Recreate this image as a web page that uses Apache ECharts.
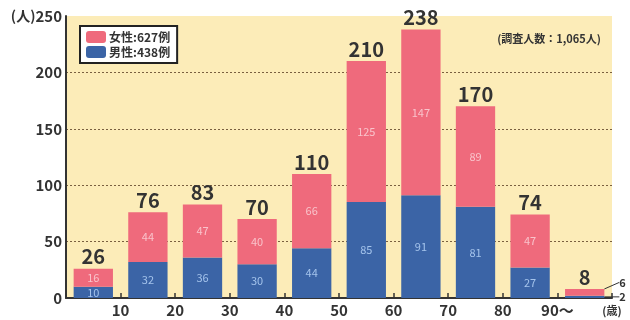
<!DOCTYPE html>
<html>
<head>
<meta charset="utf-8">
<script src="https://cdn.jsdelivr.net/npm/echarts@6/dist/echarts.min.js"></script>
<style>
  html, body { margin: 0; padding: 0; background: #ffffff; }
  #chart { width: 630px; height: 320px; }
</style>
</head>
<body>
<div id="chart"></div>
<script>
// Age groups (10-year bands) and counts by sex
const ageGroups = ['0-9', '10-19', '20-29', '30-39', '40-49', '50-59', '60-69', '70-79', '80-89', '90+'];
const male   = [10, 32, 36, 30, 44, 85, 91, 81, 27, 2];
const female = [16, 44, 47, 40, 66, 125, 147, 89, 47, 6];
const totals = [26, 76, 83, 70, 110, 210, 238, 170, 74, 8];
const maleName = '男性:438例';
const femaleName = '女性:627例';
const surveyNote = '(調査人数：1,065人)';
const yTicks = [0, 50, 100, 150, 200, 250];
const ageTickLabels = { 10: '10', 20: '20', 30: '30', 40: '40', 50: '50', 60: '60', 70: '70', 80: '80', 90: '90～', 100: '(歳)' };

const FONT = '"Noto Sans CJK JP", "Noto Sans", sans-serif';
const PINK = '#ef6a7c';
const BLUE = '#3b64a6';
const INK = '#333333';
const last = ageGroups.length - 1;

// Small bar segments get their value pulled out to the right with a leader line
function sideLabel(params, lift) {
  if (params.dataIndex !== last) return {};
  return {
    x: params.rect.x + params.rect.width + 15,
    y: params.rect.y + params.rect.height / 2 - lift,
    align: 'left',
    verticalAlign: 'middle'
  };
}

const chart = echarts.init(document.getElementById('chart'), null, { renderer: 'canvas' });
chart.setOption({
  animation: false,
  textStyle: { fontFamily: FONT },
  title: {
    text: surveyNote,
    right: 24,
    top: 28,
    textStyle: { fontFamily: FONT, fontSize: 11, fontWeight: 'bold', color: INK }
  },
  legend: {
    left: 80,
    top: 26,
    orient: 'vertical',
    data: [femaleName, maleName],
    backgroundColor: '#ffffff',
    borderColor: '#222222',
    borderWidth: 2,
    borderRadius: 0,
    padding: [5, 7, 5, 6],
    itemGap: 3,
    itemWidth: 20,
    itemHeight: 12,
    textStyle: { fontFamily: FONT, fontSize: 12, fontWeight: 'bold', color: INK, padding: [0, 0, 0, -2] }
  },
  grid: {
    left: 66, right: 18, top: 16, bottom: 22,
    show: true,
    backgroundColor: '#fcecb8',
    borderWidth: 0
  },
  xAxis: [
    {
      type: 'category',
      data: ageGroups,
      axisLine: { show: true, lineStyle: { color: INK, width: 2 } },
      axisTick: { show: true, inside: true, length: 5, lineStyle: { color: INK, width: 1.5 } },
      axisLabel: { show: false }
    },
    {
      type: 'value',
      min: 0, max: 100, interval: 10,
      position: 'bottom',
      axisLine: { show: false },
      axisTick: { show: false },
      splitLine: { show: false },
      axisLabel: {
        margin: 5,
        color: INK,
        fontFamily: FONT,
        fontSize: 15,
        fontWeight: 'bold',
        formatter: v => {
          const t = ageTickLabels[v] || '';
          return v === 100 ? '{s|' + t + '}' : t;
        },
        rich: { s: { fontSize: 11, fontWeight: 'bold', color: INK, fontFamily: FONT, padding: [2, 0, 0, 0] } }
      }
    }
  ],
  yAxis: {
    type: 'value',
    min: yTicks[0], max: yTicks[yTicks.length - 1], interval: 50,
    axisLine: { show: true, lineStyle: { color: INK, width: 2 } },
    axisTick: { show: false },
    axisLabel: {
      margin: 4,
      color: INK,
      fontFamily: FONT,
      fontSize: 15,
      fontWeight: 'bold',
      formatter: v => v === yTicks[yTicks.length - 1] ? '{u|(人)}' + v : String(v),
      rich: { u: { fontSize: 14, fontWeight: 'bold', color: INK, fontFamily: FONT } }
    },
    splitLine: {
      show: true,
      lineStyle: {
        type: [2, 2],
        width: 1,
        color: ['#7a6040', '#7a6040', '#7a6040', '#7a6040', '#7a6040', 'rgba(0,0,0,0)']
      }
    }
  },
  series: [
    {
      name: maleName,
      type: 'bar',
      stack: 'total',
      barWidth: '72%',
      itemStyle: { color: BLUE },
      data: male.map((v, i) => i === last
        ? { value: v, label: { position: 'right', color: INK, fontSize: 11, fontWeight: 'bold' } }
        : v),
      label: { show: true, position: 'inside', color: '#a5c4ec', fontSize: 11, fontFamily: FONT },
      labelLayout: p => sideLabel(p, 0),
      labelLine: { show: true, lineStyle: { color: INK, width: 1 } }
    },
    {
      name: femaleName,
      type: 'bar',
      stack: 'total',
      barWidth: '72%',
      itemStyle: { color: PINK },
      data: female.map((v, i) => i === last
        ? { value: v, label: { position: 'right', color: INK, fontSize: 11, fontWeight: 'bold' } }
        : v),
      label: { show: true, position: 'inside', color: '#f9c3cb', fontSize: 11, fontFamily: FONT },
      labelLayout: p => sideLabel(p, 10),
      labelLine: { show: true, lineStyle: { color: INK, width: 1 } }
    },
    {
      // zero-height cap carrying each band's total above the stack
      name: 'total',
      type: 'bar',
      stack: 'total',
      barWidth: '72%',
      itemStyle: { color: 'rgba(0,0,0,0)' },
      data: totals.map(() => 0),
      label: {
        show: true,
        position: 'top',
        distance: 2,
        color: INK,
        fontFamily: FONT,
        fontSize: 20,
        fontWeight: 'bold',
        formatter: p => String(totals[p.dataIndex])
      }
    }
  ]
});
</script>
</body>
</html>
